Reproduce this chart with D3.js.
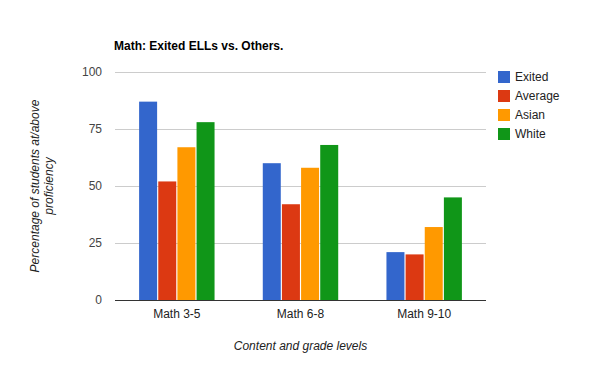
<!DOCTYPE html>
<html>
<head>
<meta charset="utf-8">
<script src="https://cdn.jsdelivr.net/npm/d3@7"></script>
<style>
  body { margin: 0; background: #fff; }
  text { font-family: Arial, "Liberation Sans", sans-serif; }
</style>
</head>
<body>
<div id="chart"></div>
<script>
// data
const categories = ["Math 3-5", "Math 6-8", "Math 9-10"];
const seriesNames = ["Exited", "Average", "Asian", "White"];
const exited  = [87, 60, 21];
const average = [52, 42, 20];
const asian   = [67, 58, 32];
const white   = [78, 68, 45];
const yTicks = [0, 25, 50, 75, 100];

const colors = ["#3366cc", "#dc3912", "#ff9900", "#109618"];
const seriesValues = [exited, average, asian, white];

const W = 600, H = 371;
const plot = { left: 115, right: 486, top: 72, bottom: 300 };

const svg = d3.select("#chart")
  .append("svg")
    .attr("width", W)
    .attr("height", H);

const x = d3.scaleBand()
  .domain(categories)
  .range([plot.left, plot.right])
  .paddingInner(0.39)
  .paddingOuter(0.195);

const xs = d3.scaleBand()
  .domain(seriesNames)
  .range([0, x.bandwidth()])
  .paddingInner(0.06);

const y = d3.scaleLinear()
  .domain([0, 100])
  .range([plot.bottom, plot.top]);

// gridlines
svg.append("g")
  .selectAll("line")
  .data(yTicks.slice(1))
  .join("line")
    .attr("x1", plot.left)
    .attr("x2", plot.right)
    .attr("y1", d => Math.round(y(d)) + 0.5)
    .attr("y2", d => Math.round(y(d)) + 0.5)
    .attr("stroke", "#cccccc")
    .attr("stroke-width", 1);

// y tick labels
svg.append("g")
  .selectAll("text")
  .data(yTicks)
  .join("text")
    .attr("x", plot.left - 13)
    .attr("y", d => y(d))
    .attr("dy", "0.35em")
    .attr("text-anchor", "end")
    .style("font-size", "12px")
    .style("fill", "#444")
    .text(d => d);

// bars
const rows = [];
categories.forEach((c, i) => {
  seriesNames.forEach((s, j) => {
    rows.push({ cat: c, series: s, value: seriesValues[j][i], color: colors[j] });
  });
});

svg.append("g")
  .selectAll("rect")
  .data(rows)
  .join("rect")
    .attr("x", d => x(d.cat) + xs(d.series))
    .attr("y", d => y(d.value))
    .attr("width", xs.bandwidth())
    .attr("height", d => y(0) - y(d.value))
    .attr("fill", d => d.color);

// baseline
svg.append("line")
  .attr("x1", plot.left)
  .attr("x2", plot.right)
  .attr("y1", plot.bottom + 0.5)
  .attr("y2", plot.bottom + 0.5)
  .attr("stroke", "#333")
  .attr("stroke-width", 1);

// x labels
svg.append("g")
  .selectAll("text")
  .data(categories)
  .join("text")
    .attr("x", d => x(d) + x.bandwidth() / 2)
    .attr("y", 318)
    .attr("text-anchor", "middle")
    .style("font-size", "12px")
    .style("fill", "#222")
    .text(d => d);

// title
svg.append("text")
  .attr("x", 114)
  .attr("y", 50)
  .style("font-size", "12px")
  .style("font-weight", "bold")
  .style("fill", "#000")
  .text("Math: Exited ELLs vs. Others.");

// axis titles
svg.append("text")
  .attr("x", (plot.left + plot.right) / 2)
  .attr("y", 350)
  .attr("text-anchor", "middle")
  .style("font-size", "12px")
  .style("font-style", "italic")
  .style("fill", "#222")
  .text("Content and grade levels");

const yTitle = svg.append("text")
  .attr("transform", `translate(39,${(plot.top + plot.bottom) / 2}) rotate(-90)`)
  .attr("text-anchor", "middle")
  .style("font-size", "12px")
  .style("font-style", "italic")
  .style("fill", "#222");
yTitle.append("tspan").attr("x", 0).attr("y", 0).text("Percentage of students at/above");
yTitle.append("tspan").attr("x", 0).attr("y", 14).text("proficiency");

// legend
const legend = svg.append("g")
  .selectAll("g")
  .data(seriesNames)
  .join("g")
    .attr("transform", (d, i) => `translate(498,${71 + i * 19})`);

legend.append("rect")
  .attr("width", 12)
  .attr("height", 12)
  .attr("fill", (d, i) => colors[i]);

legend.append("text")
  .attr("x", 17)
  .attr("y", 6)
  .attr("dy", "0.35em")
  .style("font-size", "12px")
  .style("fill", "#222")
  .text(d => d);
</script>
</body>
</html>
